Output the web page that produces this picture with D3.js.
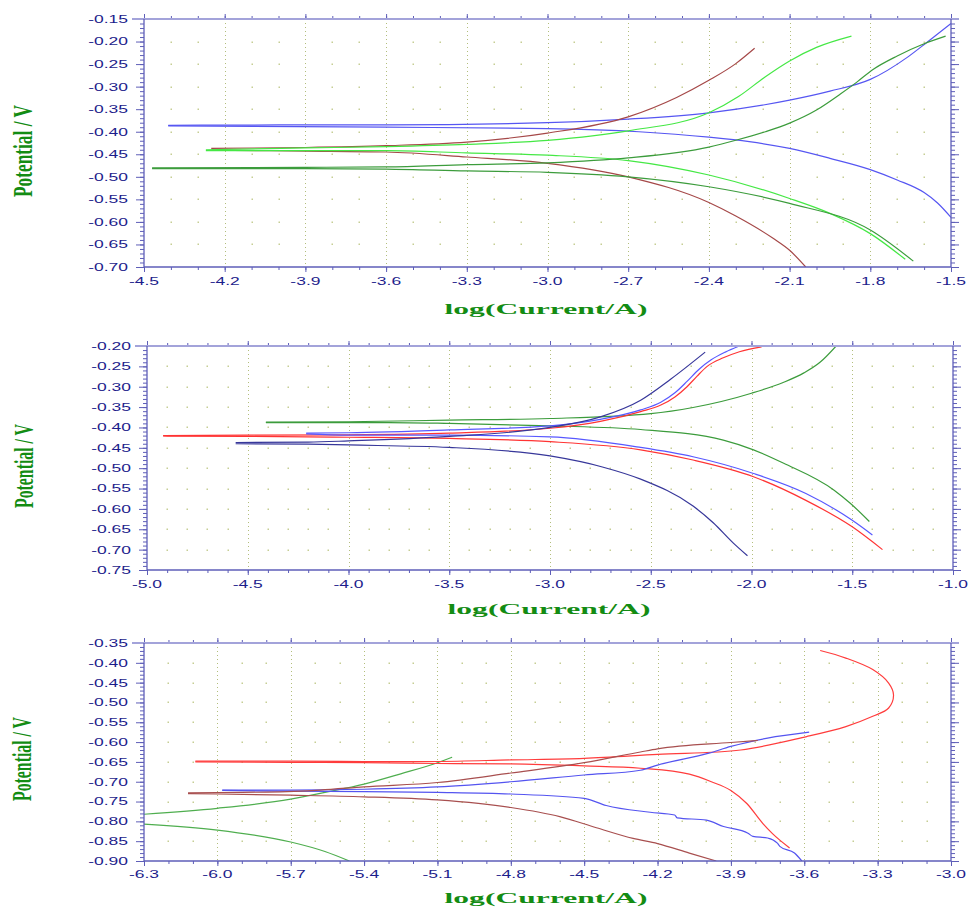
<!DOCTYPE html>
<html>
<head>
<meta charset="utf-8">
<script src="https://cdn.jsdelivr.net/npm/d3@7"></script>
<style>
  body { margin: 0; background: #fff; }
</style>
</head>
<body>
<svg id="chart" width="968" height="909"></svg>
<script>
// ---------------------------- DATA (log(I/A), E/V) ----------------------------
// Panel 1
const p1BlueAnodic = [[-4.41,-0.386],[-4.0,-0.385],[-3.6,-0.385],[-3.0,-0.380],[-2.7,-0.372],[-2.4,-0.358],[-2.1,-0.330],[-1.95,-0.310],[-1.8,-0.284],[-1.66,-0.234],[-1.59,-0.202],[-1.5,-0.160]];
const p1BlueCathodic = [[-4.41,-0.387],[-3.6,-0.390],[-3.0,-0.393],[-2.66,-0.400],[-2.4,-0.412],[-2.25,-0.422],[-2.1,-0.437],[-1.95,-0.459],[-1.8,-0.484],[-1.7,-0.507],[-1.6,-0.535],[-1.55,-0.558],[-1.5,-0.590]];
const p1BrownAnodic = [[-4.25,-0.437],[-3.9,-0.435],[-3.6,-0.431],[-3.3,-0.423],[-3.0,-0.403],[-2.7,-0.367],[-2.52,-0.324],[-2.4,-0.286],[-2.3,-0.249],[-2.23,-0.215]];
const p1BrownCathodic = [[-4.25,-0.441],[-3.9,-0.443],[-3.6,-0.445],[-3.3,-0.456],[-3.0,-0.470],[-2.7,-0.500],[-2.4,-0.557],[-2.3,-0.587],[-2.16,-0.637],[-2.1,-0.663],[-2.04,-0.700]];
const p1LightGreenAnodic = [[-4.27,-0.440],[-3.9,-0.436],[-3.6,-0.433],[-3.3,-0.428],[-3.0,-0.419],[-2.7,-0.398],[-2.4,-0.358],[-2.29,-0.322],[-2.19,-0.278],[-2.1,-0.243],[-2.0,-0.213],[-1.87,-0.188]];
const p1LightGreenCathodic = [[-4.27,-0.442],[-3.6,-0.442],[-3.3,-0.447],[-3.0,-0.452],[-2.7,-0.464],[-2.4,-0.496],[-2.1,-0.548],[-1.95,-0.581],[-1.8,-0.626],[-1.67,-0.683]];
const p1GreenAnodic = [[-4.47,-0.480],[-3.9,-0.479],[-3.6,-0.478],[-3.3,-0.473],[-3.0,-0.469],[-2.7,-0.458],[-2.4,-0.434],[-2.3,-0.419],[-2.19,-0.400],[-2.1,-0.381],[-2.0,-0.352],[-1.91,-0.316],[-1.85,-0.290],[-1.79,-0.262],[-1.7,-0.232],[-1.6,-0.205],[-1.52,-0.188]];
const p1GreenCathodic = [[-4.47,-0.482],[-3.9,-0.482],[-3.6,-0.483],[-3.3,-0.487],[-3.0,-0.490],[-2.7,-0.500],[-2.4,-0.522],[-2.1,-0.559],[-1.8,-0.618],[-1.64,-0.687]];

// Panel 2
const p2GreenAnodic = [[-4.41,-0.387],[-4.0,-0.386],[-3.5,-0.382],[-3.0,-0.378],[-2.5,-0.366],[-2.29,-0.351],[-2.0,-0.316],[-1.84,-0.289],[-1.74,-0.266],[-1.66,-0.240],[-1.58,-0.200]];
const p2GreenCathodic = [[-4.41,-0.388],[-3.8,-0.388],[-3.5,-0.390],[-3.0,-0.396],[-2.55,-0.405],[-2.14,-0.431],[-1.99,-0.455],[-1.84,-0.488],[-1.59,-0.554],[-1.51,-0.586],[-1.415,-0.631]];
const p2RedAnodic = [[-4.92,-0.420],[-4.5,-0.419],[-4.0,-0.418],[-3.5,-0.414],[-3.0,-0.402],[-2.75,-0.385],[-2.55,-0.361],[-2.45,-0.345],[-2.38,-0.325],[-2.32,-0.300],[-2.27,-0.274],[-2.22,-0.250],[-2.14,-0.229],[-2.06,-0.214],[-1.95,-0.202]];
const p2RedCathodic = [[-4.92,-0.421],[-4.5,-0.422],[-4.0,-0.424],[-3.5,-0.427],[-3.0,-0.435],[-2.55,-0.455],[-2.29,-0.480],[-1.99,-0.521],[-1.73,-0.579],[-1.5,-0.644],[-1.35,-0.700]];
const p2BlueAnodic = [[-4.21,-0.414],[-4.0,-0.413],[-3.5,-0.406],[-3.0,-0.396],[-2.75,-0.380],[-2.55,-0.357],[-2.45,-0.338],[-2.38,-0.315],[-2.32,-0.287],[-2.26,-0.257],[-2.2,-0.234],[-2.13,-0.215],[-2.06,-0.200]];
const p2BlueCathodic = [[-4.21,-0.416],[-4.0,-0.419],[-3.5,-0.419],[-3.0,-0.423],[-2.55,-0.449],[-2.29,-0.472],[-1.99,-0.513],[-1.73,-0.562],[-1.5,-0.628],[-1.40,-0.664]];
const p2NavyAnodic = [[-4.56,-0.437],[-4.2,-0.436],[-4.0,-0.433],[-3.5,-0.422],[-3.0,-0.400],[-2.75,-0.374],[-2.55,-0.333],[-2.4,-0.281],[-2.23,-0.215]];
const p2NavyCathodic = [[-4.56,-0.440],[-4.2,-0.441],[-4.0,-0.443],[-3.5,-0.449],[-3.0,-0.470],[-2.74,-0.497],[-2.55,-0.527],[-2.29,-0.593],[-2.19,-0.634],[-2.09,-0.684],[-2.02,-0.715]];

// Panel 3
const p3GreenUpper = [[-6.3,-0.782],[-6.0,-0.767],[-5.7,-0.744],[-5.56,-0.727],[-5.4,-0.706],[-5.25,-0.680],[-5.1,-0.652],[-5.04,-0.638]];
const p3GreenLower = [[-6.3,-0.807],[-6.0,-0.822],[-5.7,-0.852],[-5.56,-0.876],[-5.46,-0.900]];
const p3RedAnodic = [[-6.09,-0.648],[-5.7,-0.648],[-5.4,-0.649],[-5.1,-0.649],[-4.8,-0.645],[-4.5,-0.641],[-4.2,-0.631],[-3.86,-0.620],[-3.59,-0.586],[-3.43,-0.561],[-3.32,-0.535],[-3.255,-0.514],[-3.235,-0.481],[-3.255,-0.451],[-3.32,-0.417],[-3.43,-0.388],[-3.535,-0.369]];
const p3RedCathodic = [[-6.09,-0.650],[-5.7,-0.651],[-5.4,-0.652],[-5.1,-0.654],[-4.8,-0.655],[-4.5,-0.660],[-4.27,-0.666],[-4.07,-0.681],[-3.98,-0.700],[-3.9,-0.722],[-3.835,-0.755],[-3.77,-0.805],[-3.73,-0.831],[-3.66,-0.867]];
const p3BlueAnodic = [[-5.98,-0.721],[-5.7,-0.721],[-5.4,-0.719],[-5.1,-0.713],[-4.8,-0.700],[-4.5,-0.683],[-4.27,-0.671],[-4.2,-0.658],[-3.99,-0.628],[-3.9,-0.611],[-3.75,-0.590],[-3.58,-0.575]];
const p3BlueCathodic = [[-5.98,-0.722],[-5.7,-0.724],[-5.4,-0.725],[-5.1,-0.727],[-4.8,-0.731],[-4.5,-0.742],[-4.41,-0.760],[-4.23,-0.777],[-4.13,-0.784],[-4.12,-0.791],[-4.0,-0.797],[-3.93,-0.813],[-3.83,-0.830],[-3.81,-0.838],[-3.75,-0.842],[-3.71,-0.855],[-3.70,-0.863],[-3.64,-0.880],[-3.61,-0.900]];
const p3BrownAnodic = [[-6.12,-0.728],[-5.8,-0.726],[-5.58,-0.721],[-5.4,-0.713],[-5.1,-0.702],[-4.8,-0.678],[-4.5,-0.652],[-4.27,-0.625],[-4.2,-0.617],[-3.9,-0.601],[-3.79,-0.596]];
const p3BrownCathodic = [[-6.12,-0.730],[-6.0,-0.731],[-5.7,-0.734],[-5.4,-0.738],[-5.1,-0.746],[-4.8,-0.765],[-4.6,-0.788],[-4.45,-0.816],[-4.3,-0.843],[-4.2,-0.856],[-4.07,-0.880],[-3.96,-0.900]];

// Axis ranges and tick steps
const xDomains = [[-4.5, -1.5], [-5.0, -1.0], [-6.3, -3.0]];
const yDomains = [[-0.70, -0.15], [-0.75, -0.20], [-0.90, -0.35]];
const xMajorSteps = [0.3, 0.5, 0.3];
const xTitle = "log(Current/A)";
const yTitle = "Potential / V";

// ---------------------------- LAYOUT ----------------------------
const boxes = [
    {left: 144, right: 951, top: 19, bottom: 267, xLabelY: 281, yLabelX: 128, titleY: 309, titleX: 546, yTitleX: 22, yTitleY: 151, yTitleLen: 92},
    {left: 147, right: 953, top: 346, bottom: 570, xLabelY: 584, yLabelX: 131, titleY: 609, titleX: 549, yTitleX: 24, yTitleY: 466, yTitleLen: 84},
    {left: 144, right: 951, top: 643, bottom: 861, xLabelY: 874, yLabelX: 128, titleY: 898, titleX: 546, yTitleX: 22, yTitleY: 759, yTitleLen: 84}
];

const panels = [
    {series: [
        {data: p1BlueAnodic, color: "#5656f2"}, {data: p1BlueCathodic, color: "#5656f2"},
        {data: p1BrownAnodic, color: "#a54848"}, {data: p1BrownCathodic, color: "#a54848"},
        {data: p1LightGreenAnodic, color: "#45e845"}, {data: p1LightGreenCathodic, color: "#45e845"},
        {data: p1GreenAnodic, color: "#3c9c3c"}, {data: p1GreenCathodic, color: "#3c9c3c"}
    ]},
    {series: [
        {data: p2GreenAnodic, color: "#3c9c3c"}, {data: p2GreenCathodic, color: "#3c9c3c"},
        {data: p2RedAnodic, color: "#ff3434"}, {data: p2RedCathodic, color: "#ff3434"},
        {data: p2BlueAnodic, color: "#5858ff"}, {data: p2BlueCathodic, color: "#5858ff"},
        {data: p2NavyAnodic, color: "#37379a"}, {data: p2NavyCathodic, color: "#37379a"}
    ]},
    {series: [
        {data: p3GreenUpper, color: "#4fae4f"}, {data: p3GreenLower, color: "#4fae4f"},
        {data: p3RedAnodic, color: "#ff3c3c", loop: true}, {data: p3RedCathodic, color: "#ff3c3c"},
        {data: p3BlueAnodic, color: "#5454f0"}, {data: p3BlueCathodic, color: "#5454f0"},
        {data: p3BrownAnodic, color: "#a84f4f"}, {data: p3BrownCathodic, color: "#a84f4f"}
    ]}
];

const axisColor = "#5e5eb8";
const topColor = "#a3a3da";
const labelColor = "#1d1d8c";
const gridColor = "#b3be7c";
const dotColor = "#c6ce94";
const titleColor = "#138c13";
const stretch = 1.52; // tick labels are drawn wide in the original

function steps(domain, step) {
    const n = Math.round((domain[1] - domain[0]) / step);
    return d3.range(n + 1).map(i => +(domain[0] + i * step).toFixed(4));
}

const svg = d3.select("#chart");

panels.forEach((p, k) => {
    const b = boxes[k];
    const x = d3.scaleLinear().domain(xDomains[k]).range([b.left, b.right]);
    const y = d3.scaleLinear().domain(yDomains[k]).range([b.bottom, b.top]);
    const g = svg.append("g");

    const xMajor = steps(xDomains[k], xMajorSteps[k]);
    const xMinor = steps(xDomains[k], 0.1);
    const yMajor = steps(yDomains[k], 0.05);
    const yMinor = steps(yDomains[k], 0.01);
    const isMajorX = v => xMajor.some(m => Math.abs(m - v) < 1e-6);

    // dotted vertical grid at major x ticks
    g.append("g").selectAll("line")
        .data(xMajor.slice(1, -1))
        .enter().append("line")
        .attr("x1", d => Math.round(x(d)) + 0.5).attr("x2", d => Math.round(x(d)) + 0.5)
        .attr("y1", b.top).attr("y2", b.bottom)
        .attr("stroke", gridColor).attr("stroke-width", 1)
        .attr("stroke-dasharray", "1,3");

    // dot grid: minor x positions on major y rows
    const dots = [];
    xMinor.slice(1, -1).filter(v => !isMajorX(v)).forEach(xv => {
        yMajor.slice(1, -1).forEach(yv => dots.push([xv, yv]));
    });
    g.append("g").selectAll("rect")
        .data(dots)
        .enter().append("rect")
        .attr("x", d => Math.round(x(d[0])) - 0.5)
        .attr("y", d => Math.round(y(d[1])) - 0.5)
        .attr("width", 1.5).attr("height", 1.5)
        .attr("fill", dotColor);

    // curves
    const clipId = "clip" + k;
    svg.append("clipPath").attr("id", clipId)
        .append("rect")
        .attr("x", b.left).attr("y", b.top)
        .attr("width", b.right - b.left).attr("height", b.bottom - b.top);
    const smooth = d3.line().x(d => x(d[0])).y(d => y(d[1])).curve(d3.curveMonotoneX);
    const loop = d3.line().x(d => x(d[0])).y(d => y(d[1])).curve(d3.curveCatmullRom.alpha(0.5));
    g.append("g").attr("clip-path", "url(#" + clipId + ")")
        .selectAll("path")
        .data(p.series)
        .enter().append("path")
        .attr("d", d => d.loop ? loop(d.data) : smooth(d.data))
        .attr("fill", "none")
        .attr("stroke", d => d.color)
        .attr("stroke-width", 1.2);

    // ticks via d3 axes (labels drawn separately)
    const tickAxis = (axis, tx, ty) => {
        const a = g.append("g").attr("transform", "translate(" + tx + "," + ty + ")").call(axis);
        a.select(".domain").remove();
        a.selectAll("line").attr("stroke", axisColor);
        return a;
    };
    tickAxis(d3.axisLeft(y).tickValues(yMinor).tickSize(4).tickFormat(""), b.left, 0);
    tickAxis(d3.axisLeft(y).tickValues(yMajor).tickSize(8).tickFormat(""), b.left, 0);
    tickAxis(d3.axisRight(y).tickValues(yMinor).tickSize(4).tickFormat(""), b.right, 0);
    tickAxis(d3.axisRight(y).tickValues(yMajor).tickSize(8).tickFormat(""), b.right, 0);
    tickAxis(d3.axisBottom(x).tickValues(xMinor).tickSize(3).tickFormat(""), 0, b.bottom);
    tickAxis(d3.axisBottom(x).tickValues(xMajor).tickSize(5).tickFormat(""), 0, b.bottom);
    tickAxis(d3.axisTop(x).tickValues(xMinor).tickSize(3).tickFormat(""), 0, b.top);
    tickAxis(d3.axisTop(x).tickValues(xMajor).tickSize(5).tickFormat(""), 0, b.top);

    // frame
    g.append("line").attr("x1", b.left - 12).attr("x2", b.right + 8).attr("y1", b.top).attr("y2", b.top)
        .attr("stroke", topColor).attr("stroke-width", 2);
    g.append("line").attr("x1", b.left).attr("x2", b.right).attr("y1", b.bottom).attr("y2", b.bottom)
        .attr("stroke", axisColor).attr("stroke-width", 1.3);
    g.append("line").attr("x1", b.left).attr("x2", b.left).attr("y1", b.top).attr("y2", b.bottom)
        .attr("stroke", axisColor).attr("stroke-width", 1.3);
    g.append("line").attr("x1", b.right).attr("x2", b.right).attr("y1", b.top).attr("y2", b.bottom)
        .attr("stroke", axisColor).attr("stroke-width", 1.3);

    // tick labels
    g.append("g").selectAll("text")
        .data(yMajor)
        .enter().append("text")
        .attr("transform", d => "translate(" + b.yLabelX + "," + y(d) + ") scale(" + stretch + ",1)")
        .attr("text-anchor", "end")
        .attr("dominant-baseline", "central")
        .style("font-family", "Arial, 'Liberation Sans', sans-serif")
        .style("font-size", "11.5px")
        .attr("fill", labelColor)
        .text(d => d.toFixed(2));
    g.append("g").selectAll("text")
        .data(xMajor)
        .enter().append("text")
        .attr("transform", d => "translate(" + x(d) + "," + b.xLabelY + ") scale(" + stretch + ",1)")
        .attr("text-anchor", "middle")
        .attr("dominant-baseline", "central")
        .style("font-family", "Arial, 'Liberation Sans', sans-serif")
        .style("font-size", "11.5px")
        .attr("fill", labelColor)
        .text(d => d.toFixed(1));

    // axis titles
    const xt = g.append("text")
        .attr("text-anchor", "middle")
        .attr("dominant-baseline", "central")
        .style("font-family", "'Liberation Serif', 'Times New Roman', serif")
        .style("font-weight", "bold")
        .style("font-size", "15px")
        .attr("fill", titleColor)
        .text(xTitle);
    const xw = xt.node().getComputedTextLength();
    xt.attr("transform", "translate(" + b.titleX + "," + b.titleY + ") scale(" + (203 / xw) + ",1)");

    const yt = g.append("text")
        .attr("text-anchor", "middle")
        .attr("dominant-baseline", "central")
        .style("font-family", "'Liberation Serif', 'Times New Roman', serif")
        .style("font-weight", "bold")
        .style("font-size", "16px")
        .attr("fill", titleColor)
        .text(yTitle);
    const yw = yt.node().getComputedTextLength();
    yt.attr("transform", "translate(" + b.yTitleX + "," + b.yTitleY + ") rotate(-90) scale(" + (b.yTitleLen / yw) + ",1.75)");
});
</script>
</body>
</html>
